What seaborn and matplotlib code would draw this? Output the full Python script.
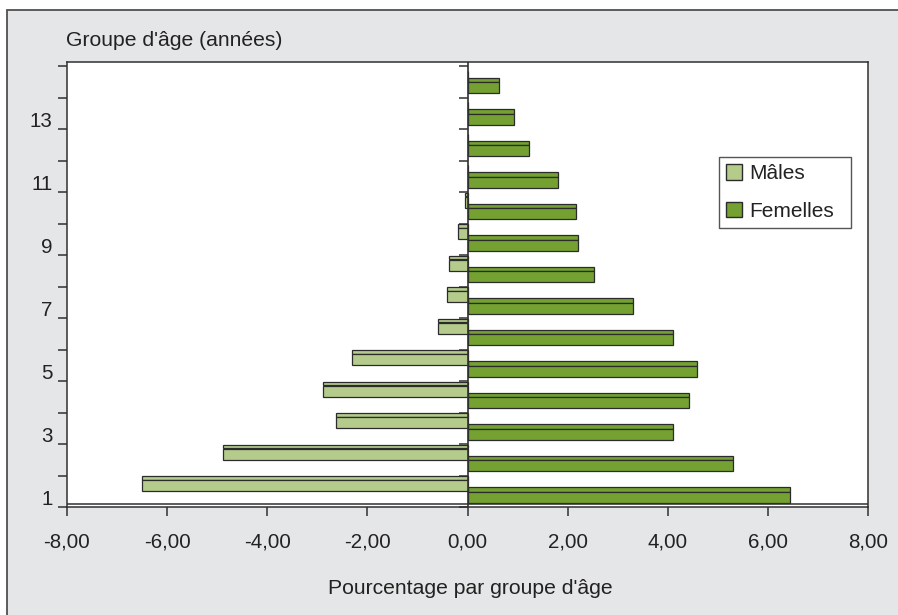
import numpy as np
import pandas as pd
import matplotlib
matplotlib.use("Agg")
import matplotlib.pyplot as plt
import matplotlib.transforms as mtransforms
from matplotlib.patches import Patch, Rectangle
import seaborn as sns

# Age groups (1 = youngest) and share of the population per sex, in percent
groupes = list(range(1, 15))
males = [-6.51, -4.88, -2.63, -2.89, -2.31, -0.58, -0.40, -0.36, -0.18, -0.05, 0.0, 0.0, 0.0, 0.0]
femelles = [6.44, 5.31, 4.10, 4.43, 4.58, 4.10, 3.30, 2.53, 2.20, 2.17, 1.80, 1.22, 0.92, 0.62]
x_ticks = [-8, -6, -4, -2, 0, 2, 4, 6, 8]
y_labels = [1, 3, 5, 7, 9, 11, 13]
series = ["Mâles", "Femelles"]

C_MALE = "#B4CB8C"
C_FEM = "#74A131"
C_EDGE = "#2b2b2b"
C_BG = "#E5E6E7"

sns.set_theme(style="white")
plt.rcParams["font.family"] = ["Liberation Sans", "DejaVu Sans"]

fig = plt.figure(figsize=(8.98, 6.15), dpi=100, facecolor="white")
fig.patches.append(Rectangle((7 / 898, -0.05), 1.2, 1.05 - 10 / 615,
                             transform=fig.transFigure, facecolor=C_BG,
                             edgecolor="#505050", linewidth=1.3, zorder=-10))

ax = fig.add_axes([67 / 898, (615 - 507) / 615, 801 / 898, 445 / 615])
ax.set_zorder(5)
ax.set_facecolor("white")

# bar layout inside each age band: males above the band centre, females below
g = np.array(groupes, dtype=float)
df = pd.DataFrame({
    "pos": np.concatenate([g + 0.175, g - 0.19]),
    "pct": males + femelles,
    "sexe": [series[0]] * len(g) + [series[1]] * len(g),
})

# thin top faces giving the bars their relief
m = np.array(males)
f = np.array(femelles)
ax.barh(g[m != 0] + 0.415, m[m != 0], height=0.11, color=C_MALE,
        edgecolor=C_EDGE, linewidth=0.9, zorder=2)
ax.barh(g + 0.055, f, height=0.13, color=C_FEM,
        edgecolor=C_EDGE, linewidth=0.9, zorder=2)

sns.barplot(data=df, x="pct", y="pos", hue="sexe", hue_order=series,
            palette=[C_MALE, C_FEM], orient="y", native_scale=True,
            dodge=False, width=0.985, saturation=1, legend=False,
            edgecolor=C_EDGE, linewidth=0.9, ax=ax, zorder=3)

ax.set_xlim(-8, 8)
ax.set_ylim(0.5, 14.627)

# floor line just above the category axis
ax.axhline(0.611, color="#303030", linewidth=1.1, zorder=4)
# zero line with its own band ticks
ax.axvline(0, color="#303030", linewidth=1.2, zorder=4)

edges = np.arange(0.5, 15, 1.0)
sec = ax.secondary_yaxis(0.5)
sec.set_yticks(edges)
sec.tick_params(axis="y", direction="in", length=6.5, width=1.1,
                color="#303030", labelright=False, labelleft=False)
sec.spines["right"].set_visible(False)
sec.spines["left"].set_visible(False)

for s in ax.spines.values():
    s.set_visible(True)
    s.set_color("#303030")
    s.set_linewidth(1.1)

ax.set_xticks(x_ticks)
ax.set_xticklabels([f"{v:.2f}".replace(".", ",") for v in x_ticks])
ax.tick_params(axis="x", bottom=True, direction="out", length=6.5, width=1.1,
               color="#303030", pad=12, labelsize=14.8, labelcolor="#222222")

ax.set_yticks(edges)
ax.set_yticklabels([])
ax.tick_params(axis="y", which="major", left=True, direction="out", length=6.5,
               width=1.1, color="#303030")
ax.set_yticks(y_labels, [str(v) for v in y_labels], minor=True)
ax.tick_params(axis="y", which="minor", left=True, length=0, pad=10.5,
               labelsize=14.8, labelcolor="#222222")
shift = mtransforms.ScaledTranslation(0, -6.5 / 100, fig.dpi_scale_trans)
for lab in ax.get_yticklabels(minor=True):
    lab.set_transform(lab.get_transform() + shift)

ax.set_xlabel("")
ax.set_ylabel("")
fig.text(66 / 898, 1 - 41 / 615, "Groupe d'âge (années)", ha="left",
         va="center", fontsize=15.2, color="#222222")
fig.text(470 / 898, 1 - 589 / 615, "Pourcentage par groupe d'âge",
         ha="center", va="center", fontsize=15.2, color="#222222")

handles = [Patch(facecolor=C_MALE, edgecolor=C_EDGE, linewidth=1.0),
           Patch(facecolor=C_FEM, edgecolor=C_EDGE, linewidth=1.0)]
leg_w = (851 - 719) / 801
leg_h = (226 - 157) / 445
leg = ax.legend(handles, series, loc="upper left", mode="expand",
                bbox_to_anchor=((719 - 67) / 801, (507 - 157) / 445 - leg_h,
                                leg_w, leg_h),
                fontsize=15, frameon=True, fancybox=False, framealpha=1,
                edgecolor="#555555", facecolor="white", handlelength=0.75,
                handleheight=0.75, handletextpad=0.35, labelspacing=0.9,
                borderpad=0.35, borderaxespad=0)
leg.get_frame().set_linewidth(1.0)
for t in leg.get_texts():
    t.set_color("#222222")

fig.savefig("out.png", dpi=100, facecolor=fig.get_facecolor())
